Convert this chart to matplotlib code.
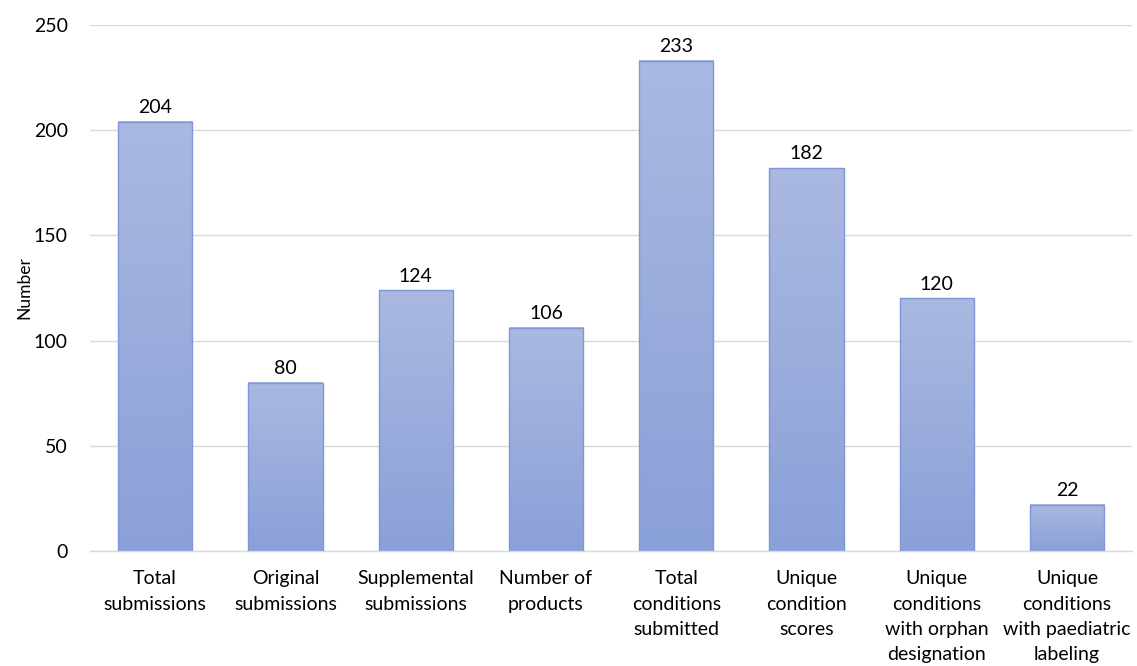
import matplotlib
matplotlib.use("Agg")
import matplotlib.pyplot as plt
import numpy as np
from matplotlib.colors import LinearSegmentedColormap

categories = ["Total\nsubmissions", "Original\nsubmissions", "Supplemental\nsubmissions",
              "Number of\nproducts", "Total\nconditions\nsubmitted", "Unique\ncondition\nscores",
              "Unique\nconditions\nwith orphan\ndesignation", "Unique\nconditions\nwith paediatric\nlabeling"]
values = [204, 80, 124, 106, 233, 182, 120, 22]
yticks = [0, 50, 100, 150, 200, 250]

plt.rcParams['font.family'] = ['Lato', 'DejaVu Sans']

fig = plt.figure(figsize=(11.37, 6.66), dpi=100)
ax = fig.add_axes([0.0792, 0.1727, 0.9165, 0.7898])

x = np.arange(len(categories))
bars = ax.bar(x, values, width=0.57, color='none', edgecolor='#7F97D8', linewidth=1.0, zorder=3)

cmap = LinearSegmentedColormap.from_list('g', ['#8AA0D8', '#AAB9E1'])
grad = np.linspace(0, 1, 256).reshape(-1, 1)
for b in bars:
    x0, y0 = b.get_x(), b.get_y()
    w, h = b.get_width(), b.get_height()
    ax.imshow(grad, extent=[x0, x0 + w, y0, y0 + h], origin='lower', cmap=cmap,
              aspect='auto', zorder=2, interpolation='bilinear')

for b, v in zip(bars, values):
    ax.annotate(str(v), (b.get_x() + b.get_width() / 2, b.get_height()),
                xytext=(0, 4), textcoords='offset points', ha='center', va='bottom',
                fontsize=14, color='#000000')

ax.set_xlim(-0.5, len(categories) - 0.5)
ax.set_ylim(0, 250)
ax.set_yticks(yticks)
ax.set_xticks(x)
ax.set_xticklabels(categories, fontsize=14, linespacing=1.58)
ax.tick_params(axis='both', length=0, labelsize=14, colors='#000000')
ax.tick_params(axis='x', pad=14)
ax.tick_params(axis='y', pad=16)
ax.yaxis.grid(True, color='#D9D9D9', linewidth=1.0, zorder=0)
ax.set_axisbelow(True)
for s in ['top', 'right', 'left']:
    ax.spines[s].set_visible(False)
ax.spines['bottom'].set_color('#D9D9D9')
ax.spines['bottom'].set_linewidth(1.0)
ax.set_ylabel('Number', fontsize=12.5, labelpad=1)

fig.savefig('out.png', dpi=100)
